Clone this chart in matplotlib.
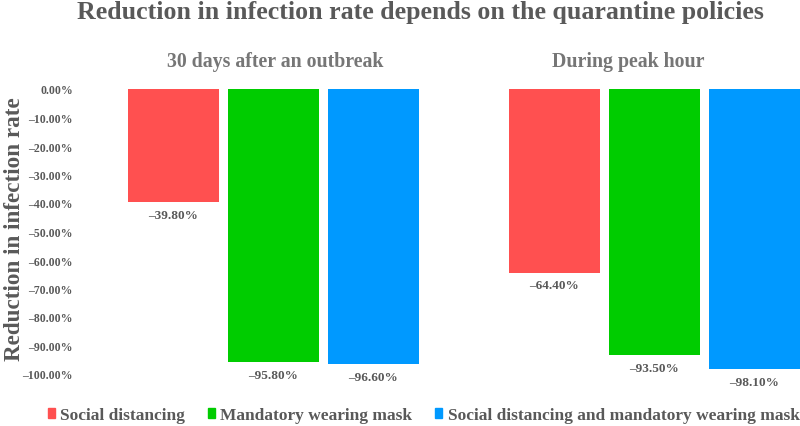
import matplotlib
matplotlib.use("Agg")
import matplotlib.pyplot as plt
from matplotlib.patches import Patch
import numpy as np

plt.rcParams['font.family'] = ['Liberation Serif', 'DejaVu Serif']
plt.rcParams['font.weight'] = 'bold'

title = "Reduction in infection rate depends on the quarantine policies"
periods = ["30 days after an outbreak", "During peak hour"]
policies = ["Social distancing", "Mandatory wearing mask",
            "Social distancing and mandatory wearing mask"]
social_distancing = [-39.8, -64.4]
mandatory_mask = [-95.8, -93.5]
both_policies = [-96.6, -98.1]
colors = ["#FF5050", "#00CC00", "#0099FF"]
yticks = [0, -10, -20, -30, -40, -50, -60, -70, -80, -90, -100]
ylabel = "Reduction in infection rate"

TXT = "#595959"
SUB = "#767676"
W, H = 800, 427
fig = plt.figure(figsize=(W / 100, H / 100), dpi=100)
left_px, right_px = 82.5, 844.5
top_px, bot_px = 90, 375
ax = fig.add_axes([left_px / W, 1 - bot_px / H, (right_px - left_px) / W, (bot_px - top_px) / H])
ax.set_xlim(-0.5, 1.5)
ax.set_ylim(-100, 0)

x = np.arange(len(periods))
step = 100 / 381
width = 91 / 381
series = [social_distancing, mandatory_mask, both_policies]
for i, (vals, c) in enumerate(zip(series, colors)):
    pos = x + (i - 1) * step
    ax.bar(pos, vals, width=width, color=c, clip_on=False)
    for p, v in zip(pos, vals):
        ax.annotate(f"\u2013{abs(v):.2f}%", (p, v), xytext=(0, -5), textcoords="offset points",
                    ha="center", va="top", fontsize=9.5, fontweight="bold", color=TXT,
                    annotation_clip=False)

ax.set_yticks(yticks)
ax.set_yticklabels([("\u2013" if t < 0 else "") + f"{abs(t):.2f}%" for t in yticks],
                   fontsize=8.5, fontweight="bold", color=TXT)
ax.tick_params(axis="y", length=0, pad=7)
ax.set_xticks([])
for s in ax.spines.values():
    s.set_visible(False)

fig.text(420 / W, 1 - 18.5 / H, title, ha="center", va="baseline", fontsize=18.6,
         fontweight="bold", color=TXT)
fig.text(275 / W, 1 - 67 / H, periods[0], ha="center", va="baseline", fontsize=14.3,
         fontweight="bold", color=SUB)
fig.text(628 / W, 1 - 67 / H, periods[1], ha="center", va="baseline", fontsize=14.3,
         fontweight="bold", color=SUB)
fig.text(15 / W, 1 - 229 / H, ylabel, ha="center", va="center", rotation=90,
         fontsize=16.7, fontweight="bold", color=TXT)

handles = [Patch(color=c, label=l) for c, l in zip(colors, policies)]
fig.legend(handles=handles, loc="center left", bbox_to_anchor=(48 / W, 1 - 416 / H),
           ncol=3, frameon=False, handlelength=0.42, handleheight=0.5, handletextpad=0.3,
           columnspacing=1.3, borderpad=0, borderaxespad=0,
           prop={"size": 12.5, "weight": "bold"}, labelcolor=TXT)

fig.savefig("out.png", dpi=100)
